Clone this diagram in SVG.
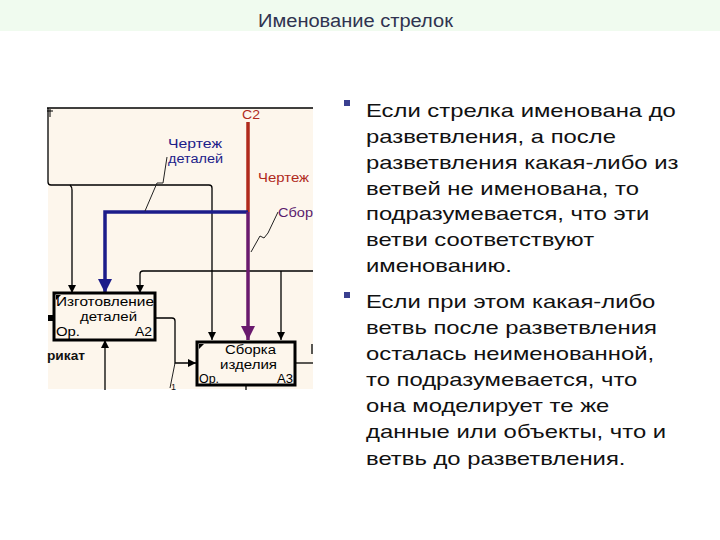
<svg xmlns="http://www.w3.org/2000/svg" width="720" height="540" viewBox="0 0 720 540">
<defs>
<style>
.t{font-family:"Liberation Sans",Arial,sans-serif;}
.body{font-size:19px;fill:#111;}
.lbl{font-size:12px;}
.box{fill:#fdf6ec;stroke:#000;stroke-width:3;}
.ln{fill:none;stroke:#000;stroke-width:1.3;}
.sq{fill:none;stroke:#222;stroke-width:1;}
</style>
<marker id="ah" viewBox="0 0 10 10" refX="10" refY="5" markerWidth="8" markerHeight="8" markerUnits="userSpaceOnUse" orient="auto"><path d="M0,0 L10,5 L0,10 z" fill="#000"/></marker>
<marker id="ahb" viewBox="0 0 10 10" refX="10" refY="5" markerWidth="14" markerHeight="14" markerUnits="userSpaceOnUse" orient="auto"><path d="M0,0 L10,5 L0,10 z" fill="#1c1c8a"/></marker>
<marker id="ahp" viewBox="0 0 10 10" refX="10" refY="5" markerWidth="14" markerHeight="14" markerUnits="userSpaceOnUse" orient="auto"><path d="M0,0 L10,5 L0,10 z" fill="#6a1a6e"/></marker>
</defs>
<rect width="720" height="540" fill="#fff"/>
<rect x="0" y="0" width="720" height="31" fill="#f0fbef"/>
<text class="t" x="258" y="27" font-size="18" fill="#2f3350" textLength="195" lengthAdjust="spacingAndGlyphs">Именование стрелок</text>

<rect x="48" y="108" width="265" height="281" fill="#fdf6ec"/>
<line x1="47" y1="108" x2="313" y2="108" stroke="#000" stroke-width="1.3"/>
<path d="M50,109 v8 M47,111 h6" stroke="#000" stroke-width="1"/>

<g id="connectors">
<path class="ln" d="M48,108 V182 Q48,185 51,185 H209 Q212,185 212,188 V340" marker-end="url(#ah)"/>
<path class="ln" d="M70,185 Q72,187 72,190 V293" marker-end="url(#ah)"/>
<path class="ln" d="M313,271 H143 Q140,271 140,274 V293" marker-end="url(#ah)"/>
<path class="ln" d="M281,271 V340" marker-end="url(#ah)"/>
<path class="ln" d="M155,318 H172 Q175,318 175,321 V363 H196" marker-end="url(#ah)"/>
<path class="ln" d="M105,390 V340" marker-end="url(#ah)"/>
<path class="ln" d="M295,363 H313"/>
<path class="ln" d="M246,385 V390"/>
<path class="ln" d="M312,344 V354"/>
<rect x="48" y="315" width="5" height="6" fill="#000"/>
<path d="M248,122 V212" stroke="#b02a1c" stroke-width="3.5" fill="none"/>
<path d="M248,212 H105 V293" stroke="#1c1c8a" stroke-width="3.5" fill="none" marker-end="url(#ahb)"/>
<path d="M248,212 V340" stroke="#6a1a6e" stroke-width="3.5" fill="none" marker-end="url(#ahp)"/>
<path class="sq" d="M145,211 L157,183 L163,183 L167,157"/>
<path class="sq" d="M251,252 L260,236 L264,238 L268,233 L278,212"/>
<path class="sq" d="M175,363 L170,388"/>
</g>

<g id="labels" class="t lbl">
<text x="242" y="119" fill="#b02a1c" textLength="18" lengthAdjust="spacingAndGlyphs">C2</text>
<text x="168" y="148" fill="#1c1c8a" textLength="54" lengthAdjust="spacingAndGlyphs">Чертеж</text>
<text x="168" y="163" fill="#1c1c8a" textLength="55" lengthAdjust="spacingAndGlyphs">деталей</text>
<text x="258" y="182" fill="#b02a1c" textLength="51" lengthAdjust="spacingAndGlyphs">Чертеж</text>
<text x="278" y="217" fill="#5a1a6e" textLength="35" lengthAdjust="spacingAndGlyphs">Сбор</text>
<text x="47" y="360" fill="#111" font-weight="bold" textLength="38" lengthAdjust="spacingAndGlyphs">рикат</text>
<text x="171" y="390" fill="#111" font-size="9">1</text>
</g>

<g id="A2">
<rect class="box" x="54" y="293" width="101" height="47"/>
<path d="M56,295 l5,0 l-5,5 z" fill="#000"/>
<text class="t lbl" x="56" y="306" textLength="98" lengthAdjust="spacingAndGlyphs">Изготовление</text>
<text class="t lbl" x="80" y="321" textLength="57" lengthAdjust="spacingAndGlyphs">деталей</text>
<text class="t lbl" x="56" y="336" textLength="24" lengthAdjust="spacingAndGlyphs">Op.</text>
<text class="t lbl" x="135" y="336" textLength="17" lengthAdjust="spacingAndGlyphs">A2</text>
</g>

<g id="A3">
<rect class="box" x="197" y="342" width="98" height="43"/>
<path d="M199,344 l5,0 l-5,5 z" fill="#000"/>
<text class="t lbl" x="225" y="354" textLength="51" lengthAdjust="spacingAndGlyphs">Сборка</text>
<text class="t lbl" x="220" y="369" textLength="57" lengthAdjust="spacingAndGlyphs">изделия</text>
<text class="t lbl" x="199" y="383" textLength="20" lengthAdjust="spacingAndGlyphs">Op.</text>
<text class="t lbl" x="277" y="383" textLength="16" lengthAdjust="spacingAndGlyphs">A3</text>
</g>

<g id="bullets">
<rect x="344" y="100" width="6" height="6" fill="#3a3f8f"/>
<rect x="344" y="292" width="6" height="6" fill="#3a3f8f"/>
<g transform="matrix(1.255,0,0,1,-93.33,0)">
<text class="t body" x="366" y="117">Если стрелка именована до</text>
<text class="t body" x="366" y="143">разветвления, а после</text>
<text class="t body" x="366" y="169">разветвления какая-либо из</text>
<text class="t body" x="366" y="195">ветвей не именована, то</text>
<text class="t body" x="366" y="220">подразумевается, что эти</text>
<text class="t body" x="366" y="246">ветви соответствуют</text>
<text class="t body" x="366" y="272">именованию.</text>
<text class="t body" x="366" y="308">Если при этом какая-либо</text>
<text class="t body" x="366" y="334">ветвь после разветвления</text>
<text class="t body" x="366" y="360">осталась неименованной,</text>
<text class="t body" x="366" y="386">то подразумевается, что</text>
<text class="t body" x="366" y="412">она моделирует те же</text>
<text class="t body" x="366" y="438">данные или объекты, что и</text>
<text class="t body" x="366" y="465">ветвь до разветвления.</text>
</g>
</g>
</svg>
